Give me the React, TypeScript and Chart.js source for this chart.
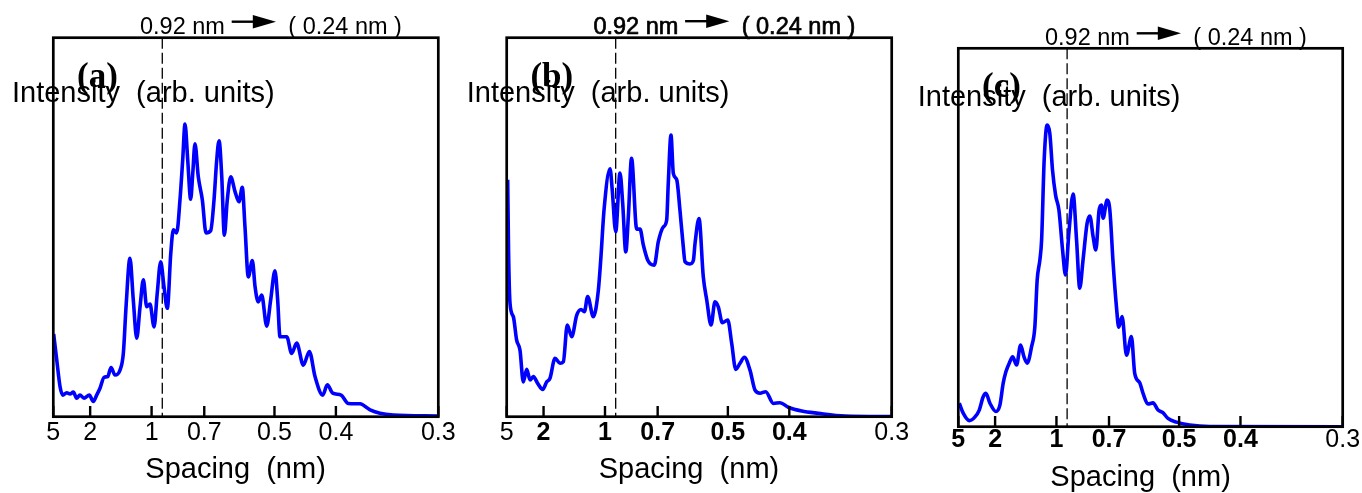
import { useEffect, useRef } from 'react';
import { Chart, registerables } from 'chart.js';

Chart.register(...registerables);

// ---------- data ----------
const tickSpacings = [5, 2, 1, 0.7, 0.5, 0.4, 0.3]; // nm
const tickLabels = ['5', '2', '1', '0.7', '0.5', '0.4', '0.3'];
const markerSpacing = 0.92; // nm, dashed line
const markerText = '0.92 nm';
const limitText = '( 0.24 nm )';
const xTitle = 'Spacing  (nm)';
const yTitle = 'Intensity  (arb. units)';
const panelLetters = ['(a)', '(b)', '(c)'];

// reciprocal spacing (1/nm) and intensity (arb. units, 0-100)
const qA = [0.203, 0.228, 0.255, 0.277, 0.309, 0.336, 0.363, 0.39, 0.417, 0.45, 0.493, 0.526, 0.553, 0.58, 0.613, 0.643, 0.67, 0.702, 0.743, 0.77, 0.792, 0.824, 0.851, 0.879, 0.906, 0.933, 0.96, 0.987, 1.02, 1.046, 1.074, 1.101, 1.128, 1.156, 1.177, 1.204, 1.231, 1.253, 1.272, 1.294, 1.318, 1.335, 1.353, 1.38, 1.413, 1.443, 1.481, 1.508, 1.53, 1.549, 1.571, 1.592, 1.616, 1.644, 1.679, 1.711, 1.738, 1.76, 1.787, 1.82, 1.842, 1.868, 1.896, 1.937, 1.969, 2.004, 2.026, 2.045, 2.1, 2.14, 2.181, 2.235, 2.284, 2.33, 2.393, 2.43, 2.474, 2.542, 2.601, 2.696, 2.778, 2.859, 2.967, 3.333];
const intensityA = [21.8, 15.0, 7.9, 5.7, 6.3, 6.0, 6.5, 4.9, 5.7, 4.9, 5.7, 4.0, 5.7, 7.5, 10.4, 10.6, 13.0, 11.0, 12.3, 16.7, 29.0, 41.8, 30.8, 20.7, 29.0, 36.1, 29.0, 29.7, 23.7, 32.6, 40.9, 34.3, 28.6, 43.1, 49.3, 48.5, 57.2, 67.7, 77.2, 67.7, 57.4, 64.2, 72.0, 63.3, 57.2, 48.5, 49.1, 57.2, 67.7, 72.8, 63.3, 47.9, 57.2, 63.3, 59.4, 56.7, 60.5, 50.1, 36.9, 41.2, 34.3, 30.3, 32.1, 23.9, 30.8, 38.5, 30.8, 21.1, 21.1, 16.7, 19.4, 13.6, 17.2, 10.6, 5.7, 8.4, 6.2, 5.7, 3.5, 3.4, 1.8, 0.9, 0.45, 0.2];

const qB = [0.208, 0.215, 0.227, 0.254, 0.281, 0.308, 0.335, 0.363, 0.39, 0.417, 0.452, 0.493, 0.526, 0.552, 0.593, 0.634, 0.661, 0.693, 0.729, 0.77, 0.805, 0.832, 0.859, 0.905, 0.946, 0.967, 0.992, 1.041, 1.059, 1.087, 1.122, 1.144, 1.169, 1.19, 1.216, 1.258, 1.285, 1.312, 1.348, 1.401, 1.434, 1.475, 1.502, 1.515, 1.537, 1.556, 1.584, 1.61, 1.637, 1.651, 1.692, 1.719, 1.733, 1.765, 1.8, 1.828, 1.863, 1.895, 1.922, 1.955, 1.999, 2.031, 2.064, 2.099, 2.134, 2.18, 2.221, 2.262, 2.308, 2.37, 2.424, 2.492, 2.601, 2.736, 2.953, 3.333];
const intensityB = [62.5, 43.9, 29.9, 26.4, 20.2, 17.6, 9.2, 12.5, 9.7, 10.6, 8.8, 7.2, 9.2, 10.1, 15.4, 14.1, 14.5, 24.2, 21.1, 26.8, 28.3, 27.7, 31.7, 26.4, 33.4, 42.2, 54.5, 65.4, 59.8, 48.8, 64.3, 56.3, 43.5, 52.8, 68.2, 49.5, 49.5, 45.3, 41.3, 40.0, 46.2, 50.1, 51.9, 61.6, 74.3, 64.2, 62.5, 54.5, 44.9, 40.9, 40.3, 41.2, 45.8, 52.3, 36.9, 30.8, 24.2, 30.3, 29.0, 24.8, 25.5, 19.4, 12.5, 14.1, 15.7, 12.3, 7.0, 6.2, 6.6, 3.5, 3.7, 2.5, 1.5, 0.9, 0.2, 0.05];

const qC = [0.208, 0.241, 0.29, 0.336, 0.371, 0.403, 0.425, 0.458, 0.507, 0.539, 0.566, 0.588, 0.621, 0.643, 0.675, 0.708, 0.735, 0.762, 0.797, 0.824, 0.843, 0.865, 0.879, 0.9, 0.924, 0.946, 0.968, 0.993, 1.02, 1.05, 1.074, 1.101, 1.136, 1.164, 1.19, 1.217, 1.25, 1.272, 1.299, 1.321, 1.348, 1.367, 1.38, 1.413, 1.435, 1.462, 1.489, 1.508, 1.535, 1.571, 1.611, 1.638, 1.679, 1.706, 1.746, 1.787, 1.828, 1.868, 1.909, 1.978, 2.086, 2.249, 3.333];
const intensityC = [6.2, 3.5, 1.6, 2.6, 4.4, 7.9, 8.8, 6.2, 4.0, 5.7, 11.5, 14.5, 17.2, 18.5, 16.3, 21.6, 18.5, 16.8, 21.1, 26.4, 38.8, 44.1, 49.3, 70.5, 79.7, 77.5, 67.8, 61.2, 57.3, 46.7, 40.1, 51.1, 61.5, 49.3, 36.6, 44.1, 53.8, 55.7, 50.2, 46.7, 57.3, 58.6, 55.1, 59.9, 57.3, 43.2, 31.7, 26.3, 29.1, 18.9, 23.8, 14.1, 11.6, 8.8, 6.0, 6.3, 4.4, 3.7, 2.2, 1.2, 0.45, 0.05, 0.0];

// ---------- layout / style ----------
const W = 1362;
const H = 493;
const SANS = "'Liberation Sans', Arial, sans-serif";
const SERIF = "'Liberation Serif', 'Times New Roman', serif";

type Panel = {
  q: number[];
  intensity: number[];
  letter: string;
  left: number;
  right: number;
  top: number;
  bottom: number;
  letterBaseline: number;
  yTitleX: number;
  yTitleBaseline: number;
  annBaseline: number;
  arrowY: number;
  xTitleBaseline: number;
  tickPadding: number;
  boldTicks: number[];
  heavyAnn: boolean;
};

const panels: Panel[] = [
  { q: qA, intensity: intensityA, letter: panelLetters[0], left: 53.3, right: 438.3, top: 37.7, bottom: 416.7, letterBaseline: 87, yTitleX: 12, yTitleBaseline: 101.7, annBaseline: 33.5, arrowY: 21.7, xTitleBaseline: 478, tickPadding: 1.0, boldTicks: [], heavyAnn: false },
  { q: qB, intensity: intensityB, letter: panelLetters[1], left: 506.7, right: 891.7, top: 37.7, bottom: 416.7, letterBaseline: 87, yTitleX: 466.7, yTitleBaseline: 101.7, annBaseline: 33.5, arrowY: 21.2, xTitleBaseline: 478.3, tickPadding: 1.0, boldTicks: [1, 2, 3, 4, 5], heavyAnn: true },
  { q: qC, intensity: intensityC, letter: panelLetters[2], left: 958.3, right: 1342.7, top: 48.3, bottom: 426.7, letterBaseline: 97, yTitleX: 917.7, yTitleBaseline: 106, annBaseline: 45, arrowY: 33.3, xTitleBaseline: 486, tickPadding: -1.4, boldTicks: [0, 1, 2, 3, 4, 5], heavyAnn: false },
];

function makeDecor(p: Panel) {
  return {
    id: 'panelDecor',
    beforeDatasetsDraw(chart: any) {
      const { ctx, chartArea: a } = chart;
      const x = chart.scales.x;
      const xm = x.getPixelForValue(1 / markerSpacing);
      ctx.save();
      ctx.strokeStyle = '#000';
      ctx.lineWidth = 1.3;
      ctx.setLineDash([11, 4]);
      ctx.beginPath();
      ctx.moveTo(xm, a.top);
      ctx.lineTo(xm, a.bottom);
      ctx.stroke();
      ctx.restore();
    },
    afterDraw(chart: any) {
      const { ctx, chartArea: a } = chart;
      const x = chart.scales.x;
      ctx.save();
      // frame
      ctx.strokeStyle = '#000';
      ctx.lineWidth = 2.7;
      ctx.setLineDash([]);
      ctx.strokeRect(a.left, a.top, a.right - a.left, a.bottom - a.top);
      // inward ticks
      ctx.lineWidth = 2.4;
      ctx.beginPath();
      tickSpacings.forEach((s) => {
        const px = x.getPixelForValue(1 / s);
        ctx.moveTo(px, a.bottom);
        ctx.lineTo(px, a.bottom - 10.7);
      });
      ctx.stroke();

      ctx.fillStyle = '#000';
      ctx.textAlign = 'left';
      ctx.textBaseline = 'alphabetic';

      // top annotation
      ctx.font = `23.5px ${SANS}`;
      ctx.strokeStyle = '#000';
      const drawAnn = (t: string, tx: number) => {
        ctx.fillText(t, tx, p.annBaseline);
        if (p.heavyAnn) {
          ctx.lineWidth = 0.7;
          ctx.strokeText(t, tx, p.annBaseline);
        }
      };
      drawAnn(markerText, a.left + 86.7);
      drawAnn(limitText, a.left + 235);
      // arrow
      ctx.lineWidth = 2.4;
      ctx.beginPath();
      ctx.moveTo(a.left + 178.4, p.arrowY);
      ctx.lineTo(a.left + 202, p.arrowY);
      ctx.stroke();
      ctx.beginPath();
      ctx.moveTo(a.left + 199.5, p.arrowY - 6.7);
      ctx.lineTo(a.left + 222.7, p.arrowY);
      ctx.lineTo(a.left + 199.5, p.arrowY + 6.7);
      ctx.closePath();
      ctx.fill();

      // panel letter
      ctx.font = `bold 35px ${SERIF}`;
      ctx.fillText(p.letter, a.left + 23.7, p.letterBaseline);

      // y title (horizontal)
      ctx.font = `29px ${SANS}`;
      ctx.fillText(yTitle, p.yTitleX, p.yTitleBaseline);

      // x title
      ctx.font = `29px ${SANS}`;
      ctx.fillText(xTitle, a.left + 92, p.xTitleBaseline);
      ctx.restore();
    },
  };
}

function PanelChart({ panel }: { panel: Panel }) {
  const ref = useRef<HTMLCanvasElement>(null);
  useEffect(() => {
    if (!ref.current) return;
    const p = panel;
    const points = p.q.map((qv, i) => ({ x: qv, y: p.intensity[i] }));
    const chart = new Chart(ref.current, {
      type: 'line',
      data: {
        datasets: [
          {
            data: points,
            borderColor: '#0000ff',
            borderWidth: 3.6,
            pointRadius: 0,
            fill: false,
            cubicInterpolationMode: 'monotone',
          } as any,
        ],
      },
      options: {
        responsive: false,
        devicePixelRatio: 1,
        animation: false,
        events: [],
        layout: { padding: { left: p.left, right: W - p.right, top: p.top, bottom: 0 } },
        plugins: { legend: { display: false }, tooltip: { enabled: false }, title: { display: false } },
        scales: {
          x: {
            type: 'linear',
            min: 1 / tickSpacings[0],
            max: 1 / tickSpacings[tickSpacings.length - 1],
            grid: { display: false, drawTicks: false },
            border: { display: false },
            afterBuildTicks: (axis: any) => {
              axis.ticks = tickSpacings.map((s) => ({ value: 1 / s }));
            },
            afterFit: (axis: any) => {
              axis.height = H - p.bottom;
              axis.paddingLeft = 0;
              axis.paddingRight = 0;
            },
            ticks: {
              autoSkip: false,
              maxRotation: 0,
              minRotation: 0,
              padding: p.tickPadding,
              color: '#000',
              font: (c: any) => ({ family: SANS, size: 25, weight: p.boldTicks.includes(c.index) ? 'bold' : 'normal' }),
              callback: (_v: any, i: number) => tickLabels[i],
            },
          },
          y: { type: 'linear', display: false, min: 0, max: 100 },
        },
      } as any,
      plugins: [makeDecor(p)],
    });
    return () => chart.destroy();
  }, [panel]);
  return (
    <canvas
      ref={ref}
      width={W}
      height={H}
      style={{ position: 'absolute', left: 0, top: 0, width: W, height: H }}
    />
  );
}

export default function App() {
  return (
    <div style={{ position: 'absolute', left: 0, top: 0, width: W, height: H, background: '#fff', overflow: 'hidden' }}>
      {panels.map((p, i) => (
        <PanelChart key={i} panel={p} />
      ))}
    </div>
  );
}
